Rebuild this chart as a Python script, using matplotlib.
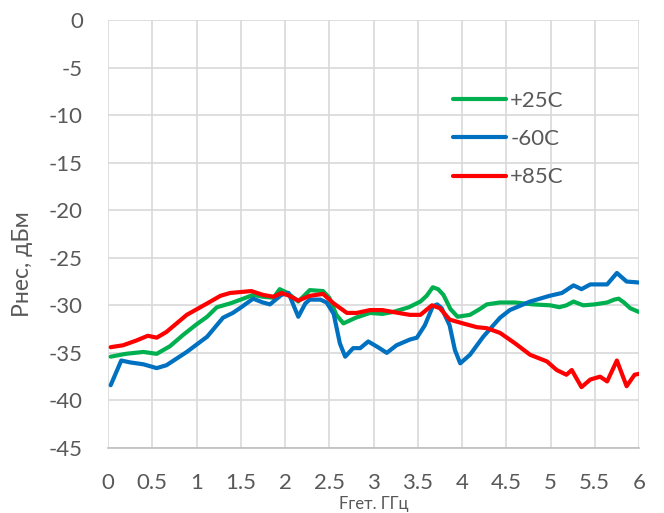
import matplotlib
matplotlib.use("Agg")
import matplotlib.pyplot as plt
import numpy as np

plt.rcParams['font.family'] = ['Lato', 'DejaVu Sans']
plt.rcParams['axes.unicode_minus'] = False

labels = ['+25C', '-60C', '+85C']
colors = ['#00B050', '#0070C0', '#FF0000']

x_g = [0.03, 0.2, 0.4, 0.55, 0.7, 0.85, 1.0, 1.12, 1.23, 1.38, 1.5, 1.64, 1.75, 1.87, 1.94,
       2.03, 2.15, 2.28, 2.43, 2.5, 2.58, 2.66, 2.8, 2.96, 3.1, 3.22, 3.4, 3.53, 3.6, 3.67,
       3.73, 3.79, 3.87, 3.95, 4.09, 4.2, 4.28, 4.43, 4.6, 4.8, 5.0, 5.1, 5.18, 5.26, 5.37,
       5.5, 5.64, 5.72, 5.77, 5.83, 5.9, 6.0]
y_g = [-35.4, -35.1, -34.9, -35.1, -34.3, -33.1, -32.0, -31.2, -30.2, -29.8, -29.4, -28.9, -29.1, -29.2, -28.3,
       -28.7, -29.6, -28.4, -28.5, -29.2, -31.0, -31.9, -31.3, -30.8, -30.9, -30.7, -30.2, -29.6, -29.0, -28.1,
       -28.3, -28.9, -30.4, -31.2, -31.0, -30.4, -29.9, -29.7, -29.7, -29.9, -30.0, -30.2, -30.0, -29.6, -30.0,
       -29.9, -29.7, -29.4, -29.3, -29.7, -30.3, -30.7]

x_b = [0.03, 0.15, 0.25, 0.4, 0.55, 0.66, 0.89, 1.12, 1.3, 1.41, 1.49, 1.64, 1.75, 1.83, 1.96,
       2.04, 2.11, 2.15, 2.23, 2.28, 2.4, 2.47, 2.55, 2.62, 2.68, 2.77, 2.85, 2.94, 3.05, 3.15,
       3.26, 3.41, 3.49, 3.58, 3.67, 3.72, 3.77, 3.86, 3.92, 3.98, 4.09, 4.24, 4.43, 4.54, 4.77,
       4.99, 5.13, 5.26, 5.35, 5.45, 5.64, 5.75, 5.86, 6.0]
y_b = [-38.4, -35.8, -36.0, -36.2, -36.6, -36.3, -34.9, -33.3, -31.3, -30.8, -30.3, -29.3, -29.7, -29.9, -28.9,
       -28.7, -30.3, -31.2, -29.8, -29.4, -29.4, -29.7, -30.9, -34.0, -35.4, -34.5, -34.5, -33.8, -34.4, -35.0,
       -34.2, -33.6, -33.4, -32.1, -30.1, -29.9, -30.3, -32.1, -34.7, -36.1, -35.2, -33.3, -31.3, -30.5, -29.6,
       -29.0, -28.7, -27.9, -28.3, -27.8, -27.8, -26.6, -27.5, -27.6]

x_r = [0.03, 0.17, 0.32, 0.45, 0.55, 0.66, 0.89, 1.12, 1.27, 1.38, 1.5, 1.62, 1.75, 1.87, 1.96,
       2.05, 2.15, 2.28, 2.43, 2.55, 2.7, 2.81, 2.96, 3.1, 3.22, 3.41, 3.53, 3.66, 3.75, 3.86,
       4.01, 4.17, 4.28, 4.43, 4.6, 4.77, 4.96, 5.07, 5.18, 5.24, 5.35, 5.45, 5.56, 5.64, 5.75,
       5.86, 5.95, 6.0]
y_r = [-34.4, -34.2, -33.7, -33.2, -33.4, -32.8, -31.0, -29.8, -29.0, -28.7, -28.6, -28.5, -28.9, -29.1, -28.7,
       -29.0, -29.5, -29.0, -28.8, -29.8, -30.8, -30.8, -30.5, -30.5, -30.7, -31.0, -31.0, -30.0, -30.3, -31.5,
       -31.9, -32.3, -32.4, -32.9, -34.0, -35.2, -35.9, -36.8, -37.3, -36.8, -38.6, -37.8, -37.5, -38.0, -35.8,
       -38.5, -37.3, -37.2]

x_ticks = [0, 0.5, 1, 1.5, 2, 2.5, 3, 3.5, 4, 4.5, 5, 5.5, 6]
x_tick_labels = ['0', '0.5', '1', '1.5', '2', '2.5', '3', '3.5', '4', '4.5', '5', '5.5', '6']
y_ticks = list(range(0, -50, -5))

fig = plt.figure(figsize=(6.64, 5.13), dpi=100)
ax = fig.add_axes([108/664, 1 - 448/513, (639 - 108)/664, (448 - 20)/513])

for xs, ys, c, lab in zip([x_g, x_b, x_r], [y_g, y_b, y_r], colors, labels):
    ax.plot(xs, ys, color=c, lw=3, label=lab, solid_capstyle='round', solid_joinstyle='round')

ax.set_xlim(0, 6)
ax.set_ylim(-45, 0)
ax.set_xticks(x_ticks)
ax.set_xticklabels(x_tick_labels)
ax.set_yticks(y_ticks)
ax.grid(True, color='#D9D9D9', lw=1.2)
ax.set_axisbelow(True)
for s in ['top', 'right', 'left']:
    ax.spines[s].set_visible(False)
ax.spines['bottom'].set_color('#BFBFBF')
ax.spines['bottom'].set_linewidth(1.2)
ax.tick_params(axis='both', length=0, labelsize=16, labelcolor='#595959')
ax.tick_params(axis='y', pad=18)
ax.tick_params(axis='x', pad=18)

ax.set_ylabel('Рнес, дБм', fontsize=16.5, color='#595959')
ax.yaxis.set_label_coords(-0.141, 0.43)
ax.set_xlabel('Fгет. ГГц', fontsize=12, color='#595959')
ax.xaxis.set_label_coords(0.5, -0.113)

fig.legend(loc='upper left', bbox_to_anchor=(453/664, 1 - 91/513), frameon=False,
           fontsize=16, handlelength=2.4, handletextpad=0.18, labelspacing=0.82,
           borderpad=0, borderaxespad=0, labelcolor='#595959')

fig.savefig('out.png', dpi=100)
